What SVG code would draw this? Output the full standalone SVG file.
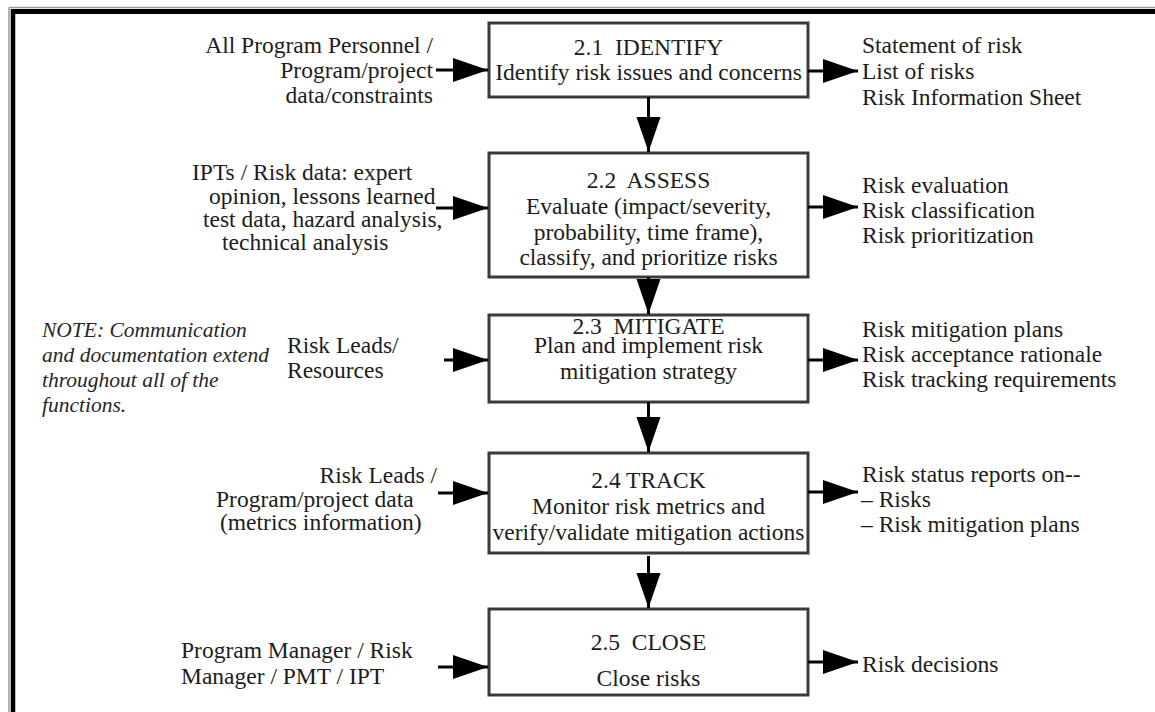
<svg xmlns="http://www.w3.org/2000/svg" width="1155" height="712" viewBox="0 0 1155 712">
  <style>
    .bg { fill: #ffffff; }
    .box { fill: #ffffff; stroke: #3a3a3a; stroke-width: 3; }
    .t { font-family: "Liberation Serif", "Times New Roman", serif; font-size: 23.5px; fill: #1c1c1c; white-space: pre; }
    .c { text-anchor: middle; }
    .e { text-anchor: end; }
    .note { font-family: "Liberation Serif", "Times New Roman", serif; font-size: 21.5px; font-style: italic; fill: #262626; }
    .wire { stroke: #000000; stroke-width: 3; fill: none; }
  </style>
  <defs>
    <marker id="head" markerUnits="userSpaceOnUse" markerWidth="36" markerHeight="26" refX="35" refY="12" orient="auto">
      <path d="M0,0 L35,12 L0,24 Z" fill="#000000"/>
    </marker>
  </defs>

  <rect class="bg" x="0" y="0" width="1155" height="712"/>

  <!-- page frame: top and left rules -->
  <g id="frame">
    <line x1="9" y1="7.5" x2="1155" y2="7.5" stroke="#9a9a9a" stroke-width="1.5"/>
    <line x1="9" y1="7.5" x2="9" y2="712" stroke="#9a9a9a" stroke-width="1.5"/>
    <line x1="11" y1="11.5" x2="1155" y2="11.5" stroke="#000000" stroke-width="5"/>
    <line x1="13" y1="9" x2="13" y2="712" stroke="#000000" stroke-width="4.5"/>
  </g>

  <!-- process steps -->
  <g id="identify">
    <rect class="box" x="489" y="23" width="319" height="74"/>
    <text class="t c" x="648.5" y="55">2.1  IDENTIFY</text>
    <text class="t c" x="648.5" y="80">Identify risk issues and concerns</text>
  </g>
  <g id="assess">
    <rect class="box" x="489" y="153" width="319" height="124"/>
    <text class="t c" x="648.5" y="188">2.2  ASSESS</text>
    <text class="t c" x="648.5" y="214">Evaluate (impact/severity,</text>
    <text class="t c" x="648.5" y="240">probability, time frame),</text>
    <text class="t c" x="648.5" y="265">classify, and prioritize risks</text>
  </g>
  <g id="mitigate">
    <rect class="box" x="489" y="315" width="319" height="87"/>
    <text class="t c" x="648.5" y="334">2.3  MITIGATE</text>
    <text class="t c" x="648.5" y="353">Plan and implement risk</text>
    <text class="t c" x="648.5" y="379">mitigation strategy</text>
  </g>
  <g id="track">
    <rect class="box" x="489" y="453" width="319" height="100"/>
    <text class="t c" x="648.5" y="488">2.4 TRACK</text>
    <text class="t c" x="648.5" y="514">Monitor risk metrics and</text>
    <text class="t c" x="648.5" y="540">verify/validate mitigation actions</text>
  </g>
  <g id="close">
    <rect class="box" x="489" y="609" width="319" height="86"/>
    <text class="t c" x="648.5" y="650">2.5  CLOSE</text>
    <text class="t c" x="648.5" y="686">Close risks</text>
  </g>

  <!-- inputs -->
  <g id="inputs">
    <text class="t e" x="433" y="53">All Program Personnel /</text>
    <text class="t e" x="433" y="78">Program/project</text>
    <text class="t e" x="433" y="103">data/constraints</text>

    <text class="t" x="192" y="180">IPTs / Risk data: expert</text>
    <text class="t" x="209" y="204">opinion, lessons learned</text>
    <text class="t" x="203" y="227">test data, hazard analysis,</text>
    <text class="t" x="222" y="250">technical analysis</text>

    <text class="t" x="287" y="353">Risk Leads/</text>
    <text class="t" x="287" y="378">Resources</text>

    <text class="t e" x="437" y="483">Risk Leads /</text>
    <text class="t" x="216" y="507">Program/project data</text>
    <text class="t" x="220" y="530">(metrics information)</text>

    <text class="t" x="181" y="658">Program Manager / Risk</text>
    <text class="t" x="181" y="684">Manager / PMT / IPT</text>
  </g>

  <!-- outputs -->
  <g id="outputs">
    <text class="t" x="862" y="53">Statement of risk</text>
    <text class="t" x="862" y="79">List of risks</text>
    <text class="t" x="862" y="105">Risk Information Sheet</text>

    <text class="t" x="862" y="193">Risk evaluation</text>
    <text class="t" x="862" y="218">Risk classification</text>
    <text class="t" x="862" y="243">Risk prioritization</text>

    <text class="t" x="862" y="337">Risk mitigation plans</text>
    <text class="t" x="862" y="362">Risk acceptance rationale</text>
    <text class="t" x="862" y="387">Risk tracking requirements</text>

    <text class="t" x="862" y="482">Risk status reports on--</text>
    <text class="t" x="861" y="507">– Risks</text>
    <text class="t" x="861" y="532">– Risk mitigation plans</text>

    <text class="t" x="862" y="672">Risk decisions</text>
  </g>

  <!-- side note -->
  <g id="note">
    <text class="note" x="42" y="337">NOTE: Communication</text>
    <text class="note" x="42" y="362">and documentation extend</text>
    <text class="note" x="42" y="387">throughout all of the</text>
    <text class="note" x="42" y="412">functions.</text>
  </g>

  <!-- connectors -->
  <g id="connectors">
    <!-- flow between steps -->
    <line class="wire" x1="648.5" y1="97" x2="648.5" y2="152" marker-end="url(#head)"/>
    <line class="wire" x1="648.5" y1="277" x2="648.5" y2="314" marker-end="url(#head)"/>
    <line class="wire" x1="648.5" y1="402" x2="648.5" y2="452" marker-end="url(#head)"/>
    <line class="wire" x1="648.5" y1="556" x2="648.5" y2="608" marker-end="url(#head)"/>
    <!-- inputs -->
    <line class="wire" x1="436" y1="70" x2="488" y2="70" marker-end="url(#head)"/>
    <line class="wire" x1="436" y1="208" x2="488" y2="208" marker-end="url(#head)"/>
    <line class="wire" x1="444" y1="360" x2="488" y2="360" marker-end="url(#head)"/>
    <line class="wire" x1="438" y1="493" x2="488" y2="493" marker-end="url(#head)"/>
    <line class="wire" x1="438" y1="667" x2="488" y2="667" marker-end="url(#head)"/>
    <!-- outputs -->
    <line class="wire" x1="808" y1="71" x2="858" y2="71" marker-end="url(#head)"/>
    <line class="wire" x1="808" y1="207" x2="858" y2="207" marker-end="url(#head)"/>
    <line class="wire" x1="808" y1="360" x2="858" y2="360" marker-end="url(#head)"/>
    <line class="wire" x1="808" y1="492" x2="858" y2="492" marker-end="url(#head)"/>
    <line class="wire" x1="808" y1="662" x2="858" y2="662" marker-end="url(#head)"/>
  </g>
</svg>
